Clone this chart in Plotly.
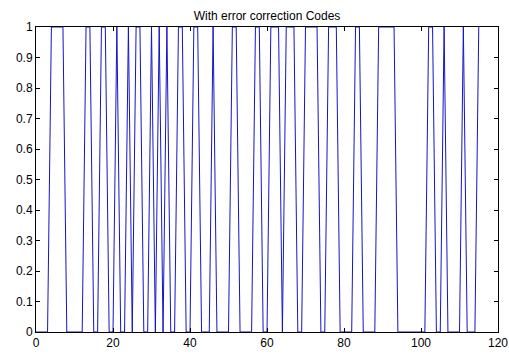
import plotly.graph_objects as go

title_text = "With error correction Codes"
signal = [
    0, 0, 0, 0, 1, 1, 1, 1, 0, 0,
    0, 0, 0, 1, 1, 0, 0, 1, 1, 0,
    0, 1, 0, 0, 1, 0, 1, 1, 0, 0,
    1, 0, 1, 0, 1, 0, 0, 1, 1, 0,
    0, 1, 1, 0, 0, 0, 1, 0, 0, 0,
    0, 1, 1, 0, 0, 0, 0, 1, 1, 0,
    0, 1, 1, 1, 0, 1, 1, 1, 0, 0,
    1, 1, 1, 1, 0, 0, 1, 1, 1, 0,
    0, 0, 0, 1, 1, 0, 0, 0, 0, 1,
    1, 1, 1, 1, 0, 0, 0, 0, 0, 0,
    0, 0, 1, 1, 0, 0, 1, 0, 0, 0,
    0, 1, 0, 0, 0, 1,
]
sample_index = list(range(len(signal)))
x_ticks = [0, 20, 40, 60, 80, 100, 120]
y_ticks = [0, 0.1, 0.2, 0.3, 0.4, 0.5, 0.6, 0.7, 0.8, 0.9, 1]
y_tick_labels = ["0", "0.1", "0.2", "0.3", "0.4", "0.5", "0.6", "0.7", "0.8", "0.9", "1"]

fig = go.Figure()
fig.add_trace(go.Scatter(
    x=sample_index, y=signal, mode="lines",
    line=dict(color="#1414c8", width=1),
    showlegend=False, hoverinfo="skip",
))

axis_common = dict(
    showgrid=False, zeroline=False, showline=True, linecolor="black",
    linewidth=1, mirror="ticks", ticks="inside", ticklen=4,
    tickcolor="black", automargin=False,
    tickfont=dict(family="Liberation Sans, Arial", size=12, color="black"),
)
fig.update_xaxes(range=[0, 120], tickvals=x_ticks, **axis_common)
fig.update_yaxes(range=[0, 1], tickvals=y_ticks, ticktext=y_tick_labels, **axis_common)

fig.update_layout(
    width=509, height=354,
    margin=dict(l=36, r=11, t=27, b=22),
    paper_bgcolor="white", plot_bgcolor="white",
    title=dict(text=title_text, x=0.5, xanchor="center", xref="paper",
               y=1, yref="paper", yanchor="bottom", pad=dict(b=7),
               font=dict(family="Liberation Sans, Arial", size=12, color="black")),
)
fig.write_html(
    "out.html",
    config={"displayModeBar": False, "staticPlot": True},
    post_script="document.body.style.margin='0';document.body.style.padding='0';document.body.style.overflow='hidden';",
)
